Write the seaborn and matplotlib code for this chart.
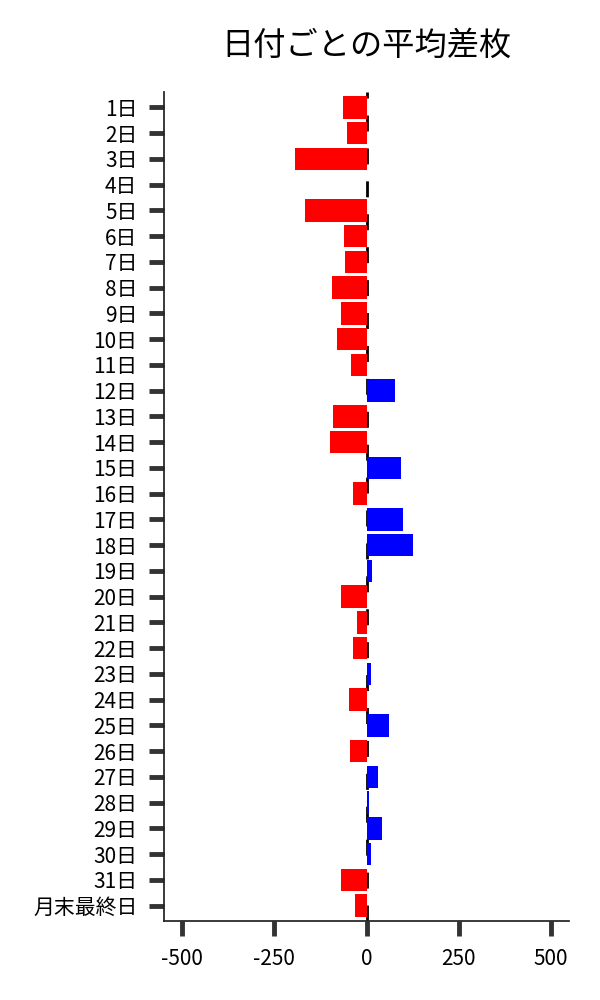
import numpy as np
import pandas as pd
import matplotlib
matplotlib.use("Agg")
import matplotlib.pyplot as plt
import seaborn as sns

days = [f"{i}日" for i in range(1, 32)] + ["月末最終日"]
values = [-64, -53, -194, 0, -167, -62, -59, -94, -70, -81, -43, 77, -92, -100,
          92, -37, 98, 125, 16, -70, -26, -37, 13, -48, 62, -45, 32, 7, 41, 11,
          -70, -32]
x_ticks = [-500, -250, 0, 250, 500]
title = "日付ごとの平均差枚"

sns.set_style("ticks")
plt.rcParams['font.family'] = ['Noto Sans CJK JP', 'DejaVu Sans']
plt.rcParams['axes.unicode_minus'] = False

df = pd.DataFrame({"day": days, "value": values})
df["sign"] = np.where(df["value"] >= 0, "pos", "neg")

fig = plt.figure(figsize=(6, 10), dpi=100)
ax = fig.add_axes([0.273, 0.079, 0.676, 0.829])

sns.barplot(data=df, x="value", y="day", hue="sign", order=days,
            palette={"neg": "#ff0000", "pos": "#0000ff"}, dodge=False,
            legend=False, width=0.87, linewidth=0, saturation=1, ax=ax)

ax.axvline(0, color="black", lw=2, linestyle=(0, (5.75, 6.1)), zorder=0)

ax.set_xlim(-550, 550)
ax.set_ylim(len(days) - 1 + 0.6, -0.6)
ax.set_xticks(x_ticks)
ax.set_xticklabels([str(t) for t in x_ticks])
ax.set_xlabel("")
ax.set_ylabel("")
ax.tick_params(axis="both", length=10.5, width=3.5, color="#333333",
               labelsize=15, labelcolor="black")
ax.tick_params(axis="y", pad=8.5)
ax.tick_params(axis="x", pad=9)
for s in ["left", "bottom"]:
    ax.spines[s].set_color("#222222")
    ax.spines[s].set_linewidth(1.25)
sns.despine(ax=ax)
ax.set_title(title, fontsize=23.2, pad=27, color="black")

fig.savefig("out.png", dpi=100)
